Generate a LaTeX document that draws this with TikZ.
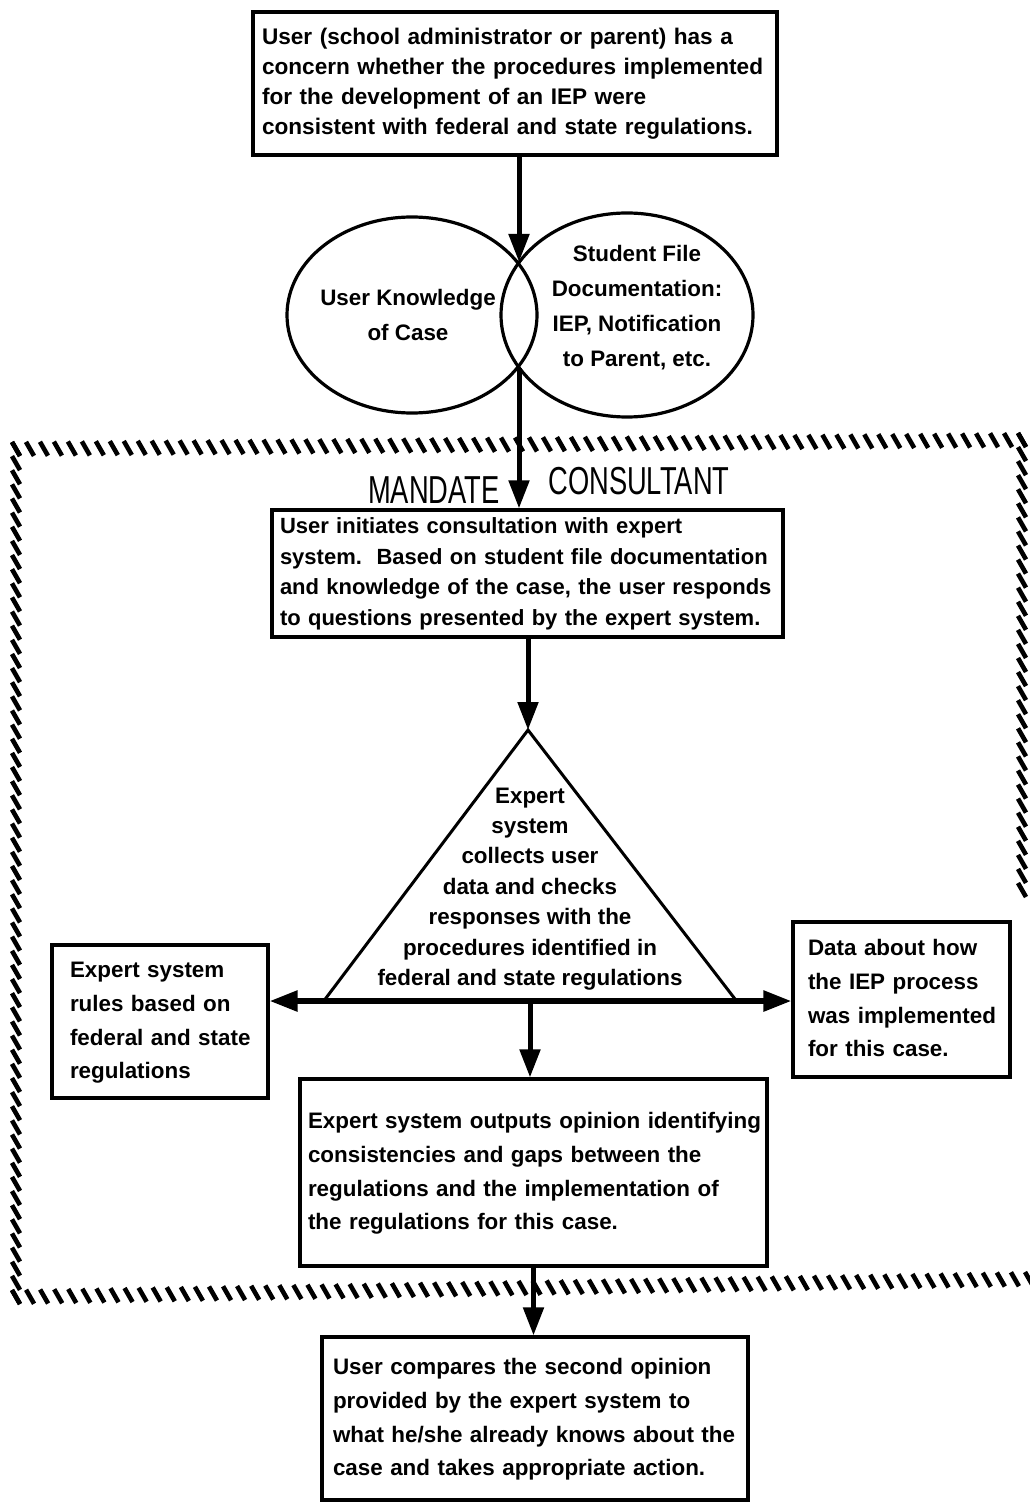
\documentclass[tikz,border=0pt]{standalone}
\usepackage{fontspec}
\setmainfont{Liberation Sans}
\newfontfamily\capfont[FakeStretch=0.7]{Liberation Sans}
\usetikzlibrary{arrows.meta,calc,shapes.geometric}
\newcommand\hatchrun[3]{%
  \foreach \i in {0,...,#3}{\draw[hatch] ($(#1)!\i/#3!(#2)$) ++(-4,-7) -- ++(8,14);}}
\newcommand\tl[1]{\begin{tabular}{@{}l@{}}#1\end{tabular}}
\begin{document}
\begin{tikzpicture}[x=0.5pt,y=-0.5pt,
  box/.style={draw, line width=1.6pt, align=left, anchor=center, inner ysep=0pt},
  bodyA/.style={font=\bfseries\fontsize{11.3}{15}\selectfont},
  bodyB/.style={font=\bfseries\fontsize{11.2}{16.8}\selectfont},
  bodyC/.style={font=\bfseries\fontsize{11}{15.2}\selectfont},
  ell/.style={draw, ellipse, line width=1.6pt, inner sep=0pt},
  flow/.style={line width=2.5pt, -{Triangle[width=10pt,length=14pt]}},
  twoway/.style={line width=2.8pt, {Triangle[width=10pt,length=14pt]}-{Triangle[width=10pt,length=14pt]}},
  tri/.style={line width=1.5pt, line join=miter},
  hatch/.style={line width=2.3pt},
  captext/.style={font=\capfont\fontsize{19.5}{22}\selectfont, inner sep=0pt},
  ]
\useasboundingbox (0,0) rectangle (1029,1508);

% boxes
\node[box, bodyA, inner xsep=4.5pt, text width=253pt, minimum height=71.5pt] (concern) at (515,83.5)
 {\tl{User (school administrator or parent) has a\\concern whether the procedures implemented\\for the development of an IEP were\\consistent with federal and state regulations.}};

\node[box, bodyC, inner xsep=4pt, text width=247.5pt, minimum height=63.5pt] (initiate) at (527.5,573.5)
 {\tl{User initiates consultation with expert\\system.\ \ Based on student file documentation\\and knowledge of the case, the user responds\\to questions presented by the expert system.}};

\node[box, bodyB, inner xsep=9pt, text width=90pt, minimum height=76.5pt] (rules) at (160,1021.5)
 {\tl{Expert system\\rules based on\\federal and state\\regulations}};

\node[box, bodyB, inner xsep=7.5pt, text width=93.5pt, minimum height=77.5pt] (data) at (901.5,999.5)
 {\tl{Data about how\\the IEP process\\was implemented\\for this case.}};

\node[box, bodyB, inner xsep=4pt, text width=225.5pt, minimum height=93.5pt] (output) at (533.5,1172.5)
 {\tl{Expert system outputs opinion identifying\\consistencies and gaps between the\\regulations and the implementation of\\the regulations for this case.}};

\node[box, bodyB, inner xsep=5.5pt, text width=202pt, minimum height=81.5pt] (final) at (535,1418.5)
 {\tl{User compares the second opinion\\provided by the expert system to\\what he/she already knows about the\\case and takes appropriate action.}};

% ellipses
\node[ell, minimum width=125pt, minimum height=98pt] (know) at (412,315) {};
\node[ell, minimum width=126pt, minimum height=102pt] (file) at (627,315) {};
\node[font=\bfseries\fontsize{11.2}{17.5}\selectfont, align=center] (knowt) at (408,315) {User Knowledge\\of Case};
\node[font=\bfseries\fontsize{11.2}{17.5}\selectfont, align=center] (filet) at (637,308) {Student File\\Documentation:\\IEP, Notification\\to Parent, etc.};
\coordinate (vtop) at (519,262);
\coordinate (vbot) at (519,368);

% mandate consultant labels
\node[captext, anchor=base east] (mand) at (500,503) {MANDATE};
\node[captext, anchor=base west] (cons) at (548,494) {CONSULTANT};

% triangle
\coordinate (apex) at (528,730);
\coordinate (bl) at (323,1002);
\coordinate (br) at (735,999);
\coordinate (bm) at (530,1001);
\draw[tri] (bl) -- (apex) -- (br);
\node[font=\bfseries\fontsize{11.2}{15.2}\selectfont, align=center] (trit) at (530,889)
 {Expert\\system\\collects user\\data and checks\\responses with the\\procedures identified in\\federal and state regulations};

% connectors
\draw[flow] (concern.south -| vtop) -- (vtop);
\draw[flow] (vbot) -- (vbot |- initiate.north);
\draw[flow] (initiate.south -| apex) -- (apex);
\draw[twoway] (rules.east |- bm) -- (data.west |- bm);
\draw[flow] (bm) -- (bm |- output.north);
\draw[flow] (output.south) -- (output.south |- final.north);

% hatched boundary
\coordinate (hTL) at (16,449);
\coordinate (hTR) at (1022,440);
\coordinate (hBL) at (16,1297);
\coordinate (hBR) at (1029,1279);
\coordinate (hRE) at (1022,890);
\hatchrun{hTL}{hTR}{72}
\hatchrun{hTL}{hBL}{60}
\hatchrun{hBL}{hBR}{72}
\hatchrun{hTR}{hRE}{32}
\end{tikzpicture}
\end{document}
